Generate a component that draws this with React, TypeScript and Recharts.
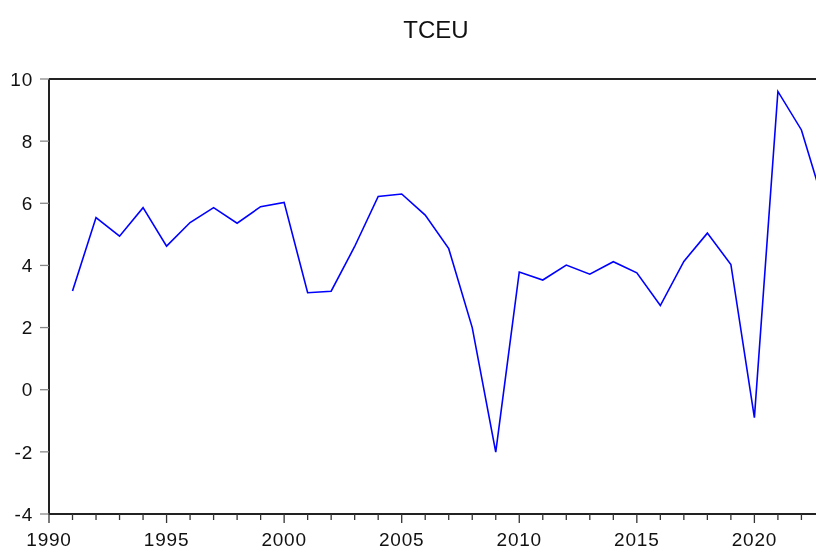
import React from "react";
import { LineChart, Line, XAxis, YAxis, ReferenceLine } from "recharts";

const years = [
  1991, 1992, 1993, 1994, 1995, 1996, 1997, 1998, 1999, 2000,
  2001, 2002, 2003, 2004, 2005, 2006, 2007, 2008, 2009, 2010,
  2011, 2012, 2013, 2014, 2015, 2016, 2017, 2018, 2019, 2020,
  2021, 2022, 2023,
];
const tceu = [
  3.18, 5.54, 4.94, 5.86, 4.62, 5.38, 5.86, 5.36, 5.89, 6.03,
  3.12, 3.17, 4.61, 6.22, 6.30, 5.62, 4.54, 2.0, -2.01, 3.79,
  3.53, 4.01, 3.72, 4.12, 3.76, 2.71, 4.13, 5.04, 4.03, -0.9,
  9.6, 8.36, 5.85,
];
const xTicks = [
  1990, 1991, 1992, 1993, 1994, 1995, 1996, 1997, 1998, 1999, 2000,
  2001, 2002, 2003, 2004, 2005, 2006, 2007, 2008, 2009, 2010,
  2011, 2012, 2013, 2014, 2015, 2016, 2017, 2018, 2019, 2020,
  2021, 2022,
];
const yTicks = [-4, -2, 0, 2, 4, 6, 8, 10];

const data = years.map((y, i) => ({ year: y, v: tceu[i] }));

const FONT = "'Liberation Sans', Arial, sans-serif";

const XTick = (props: any) => {
  const { x, y, payload } = props;
  const major = payload.value % 5 === 0;
  return (
    <g>
      <line x1={x} x2={x} y1={y} y2={y + (major ? 9 : 6)} stroke="#333" strokeWidth={1.3} />
      {major && (
        <text
          x={x}
          y={y + 19}
          dy="0.71em"
          textAnchor="middle"
          fontFamily={FONT}
          fontSize={19}
          letterSpacing={0.8}
          fill="#111"
        >
          {payload.value}
        </text>
      )}
    </g>
  );
};

export default function App() {
  return (
    <div style={{ position: "fixed", left: 0, top: 0, width: 816, height: 550, overflow: "hidden" }}>
      <LineChart
        width={816}
        height={550}
        data={data}
        margin={{ top: 79, right: 0, bottom: 0, left: 0 }}
      >
        <text x={436} y={38} textAnchor="middle" fontFamily={FONT} fontSize={24} fill="#111">
          TCEU
        </text>
        <XAxis
          dataKey="year"
          type="number"
          domain={[1990, 2022.62]}
          allowDataOverflow
          ticks={xTicks}
          interval={0}
          height={36}
          tickSize={0}
          tickMargin={0}
          tickLine={false}
          tick={<XTick />}
          axisLine={{ stroke: "#222", strokeWidth: 2 }}
        />
        <YAxis
          type="number"
          domain={[-4, 10]}
          ticks={yTicks}
          interval={0}
          width={49}
          tickSize={9}
          tickMargin={7}
          tickLine={{ stroke: "#888", strokeWidth: 1.3 }}
          axisLine={{ stroke: "#222", strokeWidth: 2 }}
          tick={{ fontFamily: FONT, fontSize: 19, fill: "#111", letterSpacing: 0.8 }}
        />
        <ReferenceLine y={10} stroke="#222" strokeWidth={2} ifOverflow="visible" />
        <Line
          type="linear"
          dataKey="v"
          stroke="#0000FF"
          strokeWidth={1.6}
          dot={false}
          isAnimationActive={false}
        />
      </LineChart>
    </div>
  );
}
